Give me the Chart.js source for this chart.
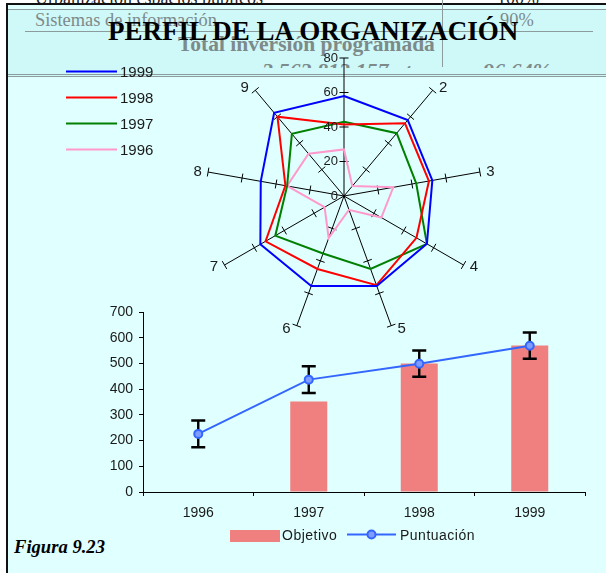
<!DOCTYPE html>
<html>
<head>
<meta charset="utf-8">
<script src="https://cdn.jsdelivr.net/npm/chart.js@4.4.1/dist/chart.umd.min.js"></script>
<style>
  html, body { margin: 0; padding: 0; background: #fff; }
  #page { position: relative; width: 606px; height: 573px; overflow: hidden; background: #fff; }
  .abs { position: absolute; white-space: nowrap; }
  .serif { font-family: "Liberation Serif", "Times New Roman", serif; }
  #frame { left: 6px; top: 3px; width: 600px; height: 570px; background: #e0ffff;
           border-left: 2px solid #111; border-top: 2px solid #111; box-sizing: border-box; }
  #box { left: 8px; top: 9px; width: 598px; height: 68px; background: #cff8f8;
         border-top: 1px solid #8c9c9c; border-bottom: 3px double #8c9c9c; box-sizing: border-box; }
  .clip { position: absolute; overflow: hidden; }
  .gray { color: #7d8a8a; }
  canvas { position: absolute; left: 0; top: 0; }
</style>
</head>
<body>
<div id="page">
  <div class="clip" style="left:0;top:0;width:606px;height:4px;">
    <div class="abs serif" style="left:35px;top:-10.6px;font-size:18px;line-height:18px;color:#222;">Urbanización espacios públicos</div>
    <div class="abs serif" style="left:497px;top:-10.6px;font-size:18px;line-height:18px;color:#222;">100%</div>
  </div>
  <div id="frame" class="abs"></div>
  <div id="box" class="abs"></div>
  <div class="abs" style="left:25px;top:31px;width:568px;height:1px;background:#8c9c9c;"></div>
  <div class="abs" style="left:442px;top:0;width:1px;height:67px;background:#8c9c9c;"></div>
  <div class="abs serif gray" style="left:35px;top:11.3px;font-size:18.4px;line-height:18.4px;">Sistemas de información</div>
  <div class="abs serif gray" style="left:500px;top:11.3px;font-size:18.4px;line-height:18.4px;">90%</div>
  <div class="abs serif gray" style="left:178px;top:33.7px;font-size:21.5px;line-height:21.5px;font-weight:bold;">Total inversión programada</div>
  <div class="clip" style="left:0;top:55px;width:606px;height:13px;">
    <div class="abs serif gray" style="left:262px;top:4.5px;font-size:22px;line-height:22px;font-weight:bold;font-style:italic;">3.563.813.157 ptas</div>
    <div class="abs serif gray" style="left:483px;top:4.5px;font-size:22px;line-height:22px;font-weight:bold;font-style:italic;">96,64%</div>
  </div>
  <div class="abs serif" style="left:108px;top:18.1px;font-size:27px;line-height:27px;font-weight:bold;color:#000;">PERFIL DE LA ORGANIZACIÓN</div>
  <div class="abs serif" style="left:14px;top:537.5px;font-size:18.6px;line-height:18.6px;font-weight:bold;font-style:italic;color:#000;">Figura 9.23</div>
  <canvas id="radar" width="606" height="573"></canvas>
  <canvas id="bars" width="606" height="573"></canvas>
</div>
<script>
(function () {
    // radar: profile per axis and year
    var radarAxes = ['1', '2', '3', '4', '5', '6', '7', '8', '9'];
    var radarTicks = [0, 20, 40, 60, 80];
    var radarYears = ['1999', '1998', '1997', '1996'];
    var radar1999 = [58, 57.5, 52, 55.5, 55.5, 55.5, 56, 49, 63];
    var radar1998 = [41.5, 55, 50, 48.5, 55, 45, 52.5, 34.5, 60];
    var radar1997 = [43, 47.5, 42.5, 55.5, 45, 35.5, 46, 33.5, 47];
    var radar1996 = [27, 7.5, 29, 25, 8.5, 26, 13, 33.5, 32];

    // bar + line chart
    var years = ['1996', '1997', '1998', '1999'];
    var objetivo = [null, 352, 500, 570];
    var puntuacion = [226, 437, 499, 569];
    var puntuacionError = [52, 52, 51, 51];

    var radarColors = ['#0000ff', '#ff0000', '#008000', '#ff99cc'];
    var sans = '"Liberation Sans", Arial, sans-serif';

    var radarDeco = {
        id: 'radarDeco',
        beforeDatasetsDraw: function (chart) {
            var r = chart.scales.r, ctx = chart.ctx;
            var max = radarTicks[radarTicks.length - 1];
            ctx.save();
            ctx.strokeStyle = '#000';
            ctx.lineWidth = 1;
            radarAxes.forEach(function (_, i) {
                var end = r.getPointPositionForValue(i, max);
                var dx = end.x - r.xCenter, dy = end.y - r.yCenter;
                var len = Math.sqrt(dx * dx + dy * dy);
                var px = -dy / len, py = dx / len;
                radarTicks.slice(1).forEach(function (v) {
                    var p = r.getPointPositionForValue(i, v);
                    ctx.beginPath();
                    ctx.moveTo(p.x - px * 4.5, p.y - py * 4.5);
                    ctx.lineTo(p.x + px * 4.5, p.y + py * 4.5);
                    ctx.stroke();
                });
            });
            ctx.restore();
        },
        afterDraw: function (chart) {
            var r = chart.scales.r, ctx = chart.ctx;
            var max = radarTicks[radarTicks.length - 1];
            ctx.save();
            ctx.fillStyle = '#1a1a1a';
            ctx.textBaseline = 'middle';

            // value labels on the first axis
            ctx.font = '13px ' + sans;
            ctx.textAlign = 'right';
            radarTicks.forEach(function (v) {
                var p = r.getPointPositionForValue(0, v);
                ctx.fillText(String(v), p.x - 6, p.y);
            });

            // axis numbers (the first one is hidden in the original)
            ctx.font = '15px ' + sans;
            ctx.textAlign = 'center';
            radarAxes.forEach(function (lab, i) {
                if (i === 0) return;
                var end = r.getPointPositionForValue(i, max);
                var dx = end.x - r.xCenter, dy = end.y - r.yCenter;
                var len = Math.sqrt(dx * dx + dy * dy);
                ctx.fillText(lab, end.x + (dx > 0 ? 10.5 : -10.5), end.y + dy / len * 3.5);
            });

            // legend
            ctx.textAlign = 'left';
            chart.data.datasets.forEach(function (ds, i) {
                var y = 71.5 + i * 26;
                ctx.strokeStyle = ds.borderColor;
                ctx.lineWidth = 2;
                ctx.beginPath();
                ctx.moveTo(66, y);
                ctx.lineTo(117, y);
                ctx.stroke();
                ctx.fillText(ds.label, 120, y + 1);
            });
            ctx.restore();
        }
    };

    new Chart(document.getElementById('radar'), {
        type: 'radar',
        data: {
            labels: radarAxes,
            datasets: [radar1999, radar1998, radar1997, radar1996].map(function (d, i) {
                return {
                    label: radarYears[i], data: d,
                    borderColor: radarColors[i], backgroundColor: radarColors[i],
                    borderWidth: 2, fill: false, pointRadius: 0, tension: 0
                };
            })
        },
        options: {
            responsive: false, animation: false,
            layout: { padding: { left: 206, right: 124, top: 58, bottom: 239 } },
            plugins: { legend: { display: false }, tooltip: { enabled: false } },
            elements: { line: { borderJoinStyle: 'miter' } },
            scales: {
                r: {
                    min: 0, max: 80,
                    ticks: { display: false, stepSize: 20 },
                    grid: { display: false },
                    angleLines: { color: '#000', lineWidth: 1 },
                    pointLabels: { display: false }
                }
            }
        },
        plugins: [radarDeco]
    });

    var barDeco = {
        id: 'barDeco',
        beforeDatasetDraw: function (chart, args) {
            if (args.index !== 1) return;
            var x = chart.scales.x, y = chart.scales.y, ctx = chart.ctx;
            ctx.save();
            ctx.strokeStyle = '#000';
            ctx.lineWidth = 2.4;
            puntuacion.forEach(function (v, i) {
                var px = x.getPixelForValue(i);
                var top = y.getPixelForValue(v + puntuacionError[i]);
                var bot = y.getPixelForValue(v - puntuacionError[i]);
                ctx.beginPath();
                ctx.moveTo(px, top); ctx.lineTo(px, bot);
                ctx.moveTo(px - 7, top); ctx.lineTo(px + 7, top);
                ctx.moveTo(px - 7, bot); ctx.lineTo(px + 7, bot);
                ctx.stroke();
            });
            ctx.restore();
        },
        afterDraw: function (chart) {
            var ctx = chart.ctx;
            var bar = chart.data.datasets[0], line = chart.data.datasets[1];
            ctx.save();
            ctx.font = '14px ' + sans;
            ctx.letterSpacing = '0.5px';
            ctx.textBaseline = 'middle';
            ctx.textAlign = 'left';
            ctx.fillStyle = bar.backgroundColor;
            ctx.fillRect(230, 530, 50, 12);
            ctx.fillStyle = '#1a1a1a';
            ctx.fillText(bar.label, 282, 536);
            ctx.strokeStyle = line.borderColor;
            ctx.lineWidth = 2;
            ctx.beginPath();
            ctx.moveTo(347, 534.5); ctx.lineTo(396, 534.5);
            ctx.stroke();
            ctx.beginPath();
            ctx.arc(371.5, 534.5, 4, 0, Math.PI * 2);
            ctx.fillStyle = line.pointBackgroundColor;
            ctx.fill();
            ctx.stroke();
            ctx.fillStyle = '#1a1a1a';
            ctx.fillText(line.label, 400, 536);
            ctx.restore();
        }
    };

    new Chart(document.getElementById('bars'), {
        type: 'bar',
        data: {
            labels: years,
            datasets: [
                {
                    type: 'bar', label: 'Objetivo', data: objetivo,
                    backgroundColor: '#f08080', categoryPercentage: 1, barPercentage: 0.335, order: 2
                },
                {
                    type: 'line', label: 'Puntuación', data: puntuacion,
                    borderColor: '#3366ff', borderWidth: 2, tension: 0,
                    pointRadius: 4, pointBorderWidth: 2, pointBorderColor: '#3366ff',
                    pointBackgroundColor: '#7f9cff', order: 1
                }
            ]
        },
        options: {
            responsive: false, animation: false,
            layout: { padding: { left: 0, right: 21, top: 312, bottom: 0 } },
            plugins: { legend: { display: false }, tooltip: { enabled: false } },
            scales: {
                x: {
                    grid: { drawOnChartArea: false, tickLength: 4, color: '#000', offset: true },
                    border: { color: '#000', width: 1 },
                    ticks: { padding: 9, color: '#1a1a1a', font: { family: sans, size: 14 } },
                    afterFit: function (s) { s.height = 81; }
                },
                y: {
                    min: 0, max: 700,
                    grid: { drawOnChartArea: false, tickLength: 4, color: '#000' },
                    border: { color: '#000', width: 1 },
                    ticks: { stepSize: 100, padding: 6, color: '#1a1a1a', font: { family: sans, size: 14 } },
                    afterFit: function (s) { s.width = 143; }
                }
            }
        },
        plugins: [barDeco]
    });
})();
</script>
</body>
</html>
